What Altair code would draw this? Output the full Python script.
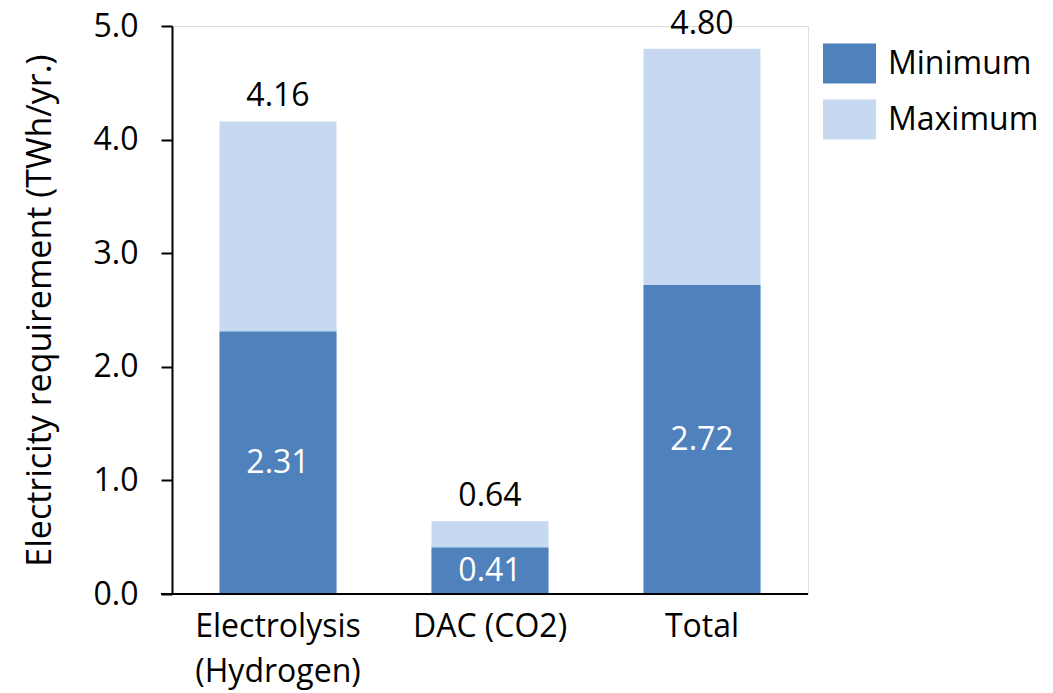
import altair as alt
import pandas as pd

# Electricity requirement by process (TWh/yr.)
categories = ["Electrolysis|(Hydrogen)", "DAC (CO2)", "Total"]
minimum = [2.31, 0.41, 2.72]
maximum = [4.16, 0.64, 4.80]

series_names = ["Minimum", "Maximum"]
series_colors = ["#4F81BD", "#C6D9F1"]

FONT = "Open Sans"
FS = 32
TITLE_FS = 34

# long table: Maximum rows first so the Minimum bars sit on top
rows = []
for c, mx in zip(categories, maximum):
    rows.append({"cat": c, "series": "Maximum", "value": mx})
for c, mn in zip(categories, minimum):
    rows.append({"cat": c, "series": "Minimum", "value": mn})
bars_df = pd.DataFrame(rows)
labels_df = pd.DataFrame({"cat": categories, "min": minimum, "max": maximum})

W, H = 636, 568

x_enc = alt.X(
    "cat:N",
    sort=categories,
    scale=alt.Scale(paddingInner=0.448, paddingOuter=0.224),
    axis=alt.Axis(
        title=None,
        domain=False,
        ticks=False,
        labelAngle=0,
        labelFont=FONT,
        labelFontSize=FS,
        labelColor="black",
        labelPadding=17,
        labelBaseline="top",
        labelLineHeight=45,
        labelExpr="split(datum.label, '|')",
    ),
)
y_scale = alt.Scale(domain=[0, 5], nice=False)

bars = alt.Chart(bars_df).mark_bar(size=117).encode(
    x=x_enc,
    y=alt.Y(
        "value:Q",
        stack=None,
        scale=y_scale,
        axis=alt.Axis(
            title="Electricity requirement (TWh/yr.)",
            values=[0, 1, 2, 3, 4, 5],
            format=".1f",
            grid=False,
            domainColor="black",
            domainWidth=2,
            tickColor="black",
            tickWidth=2,
            tickSize=11,
            labelFont=FONT,
            labelFontSize=FS,
            labelColor="black",
            labelPadding=23,
            titleFont=FONT,
            titleFontSize=TITLE_FS,
            titleFontWeight="normal",
            titleColor="black",
            titlePadding=36,
        ),
    ),
    color=alt.Color(
        "series:N",
        scale=alt.Scale(domain=series_names, range=series_colors),
        legend=alt.Legend(
            title=None,
            orient="none",
            legendX=651,
            legendY=11,
            symbolType="M-1,-0.755H1V0.755H-1Z",
            symbolSize=2809,
            symbolStrokeWidth=0,
            symbolOpacity=1,
            labelFont=FONT,
            labelFontSize=FS,
            labelColor="black",
            labelOffset=12,
            rowPadding=9,
        ),
    ),
    order=alt.Order("series:N", sort="ascending"),
)

max_text = alt.Chart(labels_df).mark_text(
    font=FONT, fontSize=FS, color="black", baseline="alphabetic", dy=-15
).encode(
    x=alt.X("cat:N", sort=categories),
    y=alt.Y("max:Q", scale=y_scale),
    text=alt.Text("max:Q", format=".2f"),
)

min_text = alt.Chart(labels_df).transform_calculate(
    mid="datum.min / 2"
).mark_text(
    font=FONT, fontSize=FS, color="white", baseline="middle"
).encode(
    x=alt.X("cat:N", sort=categories),
    y=alt.Y("mid:Q", scale=y_scale),
    text=alt.Text("min:Q", format=".2f"),
)

# baseline that reaches under the y-axis ticks
baseline = alt.Chart(labels_df).mark_rule(color="black", strokeWidth=2).encode(
    x=alt.value(-11),
    x2=alt.value(W),
    y=alt.datum(0, scale=y_scale),
)

chart = alt.layer(bars, max_text, min_text, baseline).properties(
    width=W,
    height=H,
    autosize=alt.AutoSizeParams(type="none"),
    padding={"left": 172, "top": 26, "right": 245, "bottom": 99},
).configure_view(stroke=None).configure(background="white")

chart.save("out.html", embed_options={"renderer": "svg", "actions": False})
